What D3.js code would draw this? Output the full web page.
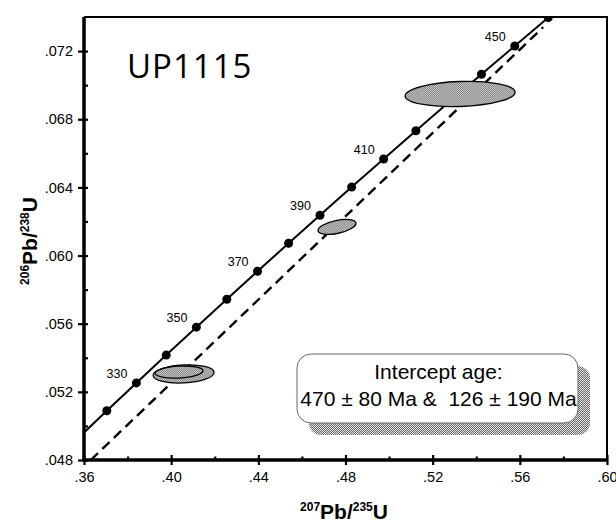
<!DOCTYPE html>
<html>
<head>
<meta charset="utf-8">
<script src="https://cdn.jsdelivr.net/npm/d3@7"></script>
<style>
  body { margin: 0; background: #fff; }
  svg { display: block; }
</style>
</head>
<body>
<div id="chart"></div>
<script>
// concordia ages (Ma) and their ratios
var ages   = [310, 320, 330, 340, 350, 360, 370, 380, 390, 400, 410, 420, 430, 440, 450, 460, 470];
var concX  = [0.3571, 0.37047, 0.38403, 0.39773, 0.41156, 0.42553, 0.43964, 0.45389, 0.46828, 0.48281, 0.49749, 0.51231, 0.52728, 0.54239, 0.55766, 0.57307, 0.58865];
var concY  = [0.04926, 0.050893, 0.052524, 0.054159, 0.055795, 0.057434, 0.059075, 0.060720, 0.062366, 0.064016, 0.065667, 0.067322, 0.068979, 0.070639, 0.072300, 0.073966, 0.07563];
var labelAges = [330, 350, 370, 390, 410, 450];

// discordia (dashed) end points
var discX = [0.3631, 0.5707];
var discY = [0.048, 0.0734];

// error ellipses: centre, semi axes (data units), tilt (deg)
var ellX   = [0.4057, 0.4036, 0.4761, 0.5326];
var ellY   = [0.05305, 0.05316, 0.06168, 0.06948];
var ellSX  = [0.0140, 0.0110, 0.0089, 0.02524];
var ellSY  = [0.00053, 0.00035, 0.00038, 0.000734];
var ellRot = [-3, -3, -12, -2];

var xTicks = [0.36, 0.40, 0.44, 0.48, 0.52, 0.56, 0.60];
var xTickLabels = [".36", ".40", ".44", ".48", ".52", ".56", ".60"];
var xMinor = [0.38, 0.42, 0.46, 0.50, 0.54, 0.58];
var yTicks = [0.048, 0.052, 0.056, 0.060, 0.064, 0.068, 0.072];
var yTickLabels = [".048", ".052", ".056", ".060", ".064", ".068", ".072"];
var yMinor = [0.050, 0.054, 0.058, 0.062, 0.066, 0.070];

var sampleName = "UP1115";
var boxLines = ["Intercept age:", "470 \u00b1 80 Ma &  126 \u00b1 190 Ma"];

var W = 616, H = 525;
var margin = {top: 17, right: 9, bottom: 65, left: 84};
var width = W - margin.left - margin.right,
    height = H - margin.top - margin.bottom;

var x = d3.scaleLinear().domain([0.36, 0.60]).range([0, width]);
var y = d3.scaleLinear().domain([0.048, 0.074]).range([height, 0]);

var svg = d3.select("#chart").append("svg")
    .attr("width", W)
    .attr("height", H);

var defs = svg.append("defs");
var pat = defs.append("pattern")
    .attr("id", "stipple")
    .attr("patternUnits", "userSpaceOnUse")
    .attr("width", 2).attr("height", 2);
pat.append("rect").attr("width", 2).attr("height", 2).attr("fill", "#e6e6e6");
pat.append("rect").attr("x", 0).attr("y", 0).attr("width", 1).attr("height", 1).attr("fill", "#666");
pat.append("rect").attr("x", 1).attr("y", 1).attr("width", 1).attr("height", 1).attr("fill", "#666");

defs.append("clipPath").attr("id", "plotclip")
  .append("rect").attr("width", width).attr("height", height);

var g = svg.append("g")
    .attr("transform", "translate(" + margin.left + "," + margin.top + ")");

var plot = g.append("g").attr("clip-path", "url(#plotclip)");

// discordia
plot.append("line")
    .attr("x1", x(discX[0])).attr("y1", y(discY[0]))
    .attr("x2", x(discX[1])).attr("y2", y(discY[1]))
    .attr("stroke", "#000")
    .attr("stroke-width", 2.4)
    .attr("stroke-dasharray", "10,6");

// concordia
var conc = ages.map(function(a, i) { return {age: a, x: concX[i], y: concY[i]}; });
var line = d3.line()
    .x(function(d) { return x(d.x); })
    .y(function(d) { return y(d.y); })
    .curve(d3.curveMonotoneX);

plot.append("path")
    .datum(conc)
    .attr("d", line)
    .attr("fill", "none")
    .attr("stroke", "#000")
    .attr("stroke-width", 2);

plot.selectAll(".dot")
    .data(conc.filter(function(d) { return d.age >= 320 && d.age <= 460; }))
    .enter().append("circle")
    .attr("class", "dot")
    .attr("cx", function(d) { return x(d.x); })
    .attr("cy", function(d) { return y(d.y); })
    .attr("r", 4.5)
    .attr("fill", "#000");

// ellipses
var ells = ellX.map(function(v, i) {
    return {x: v, y: ellY[i], sx: ellSX[i], sy: ellSY[i], rot: ellRot[i]};
});
plot.selectAll(".ell")
    .data(ells)
    .enter().append("ellipse")
    .attr("class", "ell")
    .attr("transform", function(d) {
        return "translate(" + x(d.x) + "," + y(d.y) + ") rotate(" + d.rot + ")";
    })
    .attr("rx", function(d) { return x(d.x + d.sx) - x(d.x); })
    .attr("ry", function(d) { return y(d.y) - y(d.y + d.sy); })
    .attr("fill", "url(#stipple)")
    .attr("stroke", "#000")
    .attr("stroke-width", 1.3);

// age labels
g.selectAll(".agelabel")
    .data(conc.filter(function(d) { return labelAges.indexOf(d.age) >= 0; }))
    .enter().append("text")
    .attr("class", "agelabel")
    .attr("x", function(d) { return x(d.x) - 9; })
    .attr("y", function(d) { return y(d.y) - 5; })
    .attr("text-anchor", "end")
    .style("font-family", "'Liberation Sans', Arial, sans-serif")
    .style("font-size", "12.5px")
    .text(function(d) { return d.age; });

// sample name
g.append("text")
    .attr("x", 127 - margin.left)
    .attr("y", 78 - margin.top)
    .style("font-family", "'Open Sans', sans-serif")
    .style("font-size", "33px")
    .style("letter-spacing", "1px")
    .text(sampleName);

// intercept box with shadow
var bx = 297 - margin.left, by = 354 - margin.top, bw = 281, bh = 69;
g.append("rect")
    .attr("x", bx + 12).attr("y", by + 12)
    .attr("width", bw).attr("height", bh)
    .attr("rx", 12)
    .attr("fill", "url(#stipple)");
g.append("rect")
    .attr("x", bx).attr("y", by)
    .attr("width", bw).attr("height", bh)
    .attr("rx", 14)
    .attr("fill", "#fff")
    .attr("stroke", "#666")
    .attr("stroke-width", 1);
g.selectAll(".boxtext")
    .data(boxLines)
    .enter().append("text")
    .attr("class", "boxtext")
    .attr("x", bx + bw / 2 + 1)
    .attr("y", function(d, i) { return by + 25 + i * 27; })
    .attr("text-anchor", "middle")
    .style("white-space", "pre")
    .style("font-family", "'Liberation Sans', Arial, sans-serif")
    .style("font-size", "21px")
    .text(function(d) { return d; });

// frame top / right
g.append("path")
    .attr("d", "M0,0H" + width + "V" + height)
    .attr("fill", "none")
    .attr("stroke", "#000")
    .attr("stroke-width", 2);

// axes
var xAxis = g.append("g")
    .attr("transform", "translate(0," + height + ")")
    .call(d3.axisBottom(x).tickValues(xTicks).tickSize(5)
        .tickFormat(function(d, i) { return xTickLabels[i]; }));
var xInner = g.append("g")
    .attr("transform", "translate(0," + height + ")")
    .call(d3.axisTop(x).tickValues(xTicks.concat(xMinor)).tickSize(5).tickFormat(""));
xInner.selectAll(".tick line").attr("y2", function(d) { return xMinor.indexOf(d) >= 0 ? -3.5 : -5; });

var yAxis = g.append("g")
    .call(d3.axisLeft(y).tickValues(yTicks).tickSize(6)
        .tickFormat(function(d, i) { return yTickLabels[i]; }));
var yInner = g.append("g")
    .call(d3.axisRight(y).tickValues(yTicks.concat(yMinor)).tickSize(4).tickFormat(""));

[xAxis, xInner, yAxis, yInner].forEach(function(a) {
    a.select(".domain").attr("stroke-width", 3);
    a.selectAll(".tick line").attr("stroke-width", 2.2);
});
xInner.select(".domain").attr("d", "M-1.5,0H" + width);
xAxis.select(".domain").attr("d", "M-1.5,0H" + width);
yAxis.select(".domain").attr("d", "M0,0V" + (height + 1.5));
yInner.select(".domain").attr("d", "M0,0V" + (height + 1.5));

xAxis.selectAll("text")
    .attr("y", 12)
    .style("font-family", "'Liberation Sans', Arial, sans-serif")
    .style("font-size", "14.5px")
    .attr("fill", "#000");
yAxis.selectAll("text")
    .attr("x", -11)
    .style("font-family", "'Liberation Sans', Arial, sans-serif")
    .style("font-size", "14.5px")
    .attr("fill", "#000");

// axis titles
var xt = svg.append("text")
    .attr("x", 344).attr("y", 519)
    .attr("text-anchor", "middle")
    .style("font-family", "'Liberation Sans', Arial, sans-serif")
    .style("font-weight", "bold")
    .style("font-size", "21px");
xt.append("tspan").attr("font-size", "12px").attr("dy", "-8").text("207");
xt.append("tspan").attr("dy", "8").text("Pb/");
xt.append("tspan").attr("font-size", "12px").attr("dy", "-8").text("235");
xt.append("tspan").attr("dy", "8").text("U");

var yt = svg.append("text")
    .attr("transform", "translate(37,241) rotate(-90)")
    .attr("text-anchor", "middle")
    .style("font-family", "'Liberation Sans', Arial, sans-serif")
    .style("font-weight", "bold")
    .style("font-size", "21px");
yt.append("tspan").attr("font-size", "12px").attr("dy", "-8").text("206");
yt.append("tspan").attr("dy", "8").text("Pb/");
yt.append("tspan").attr("font-size", "12px").attr("dy", "-8").text("238");
yt.append("tspan").attr("dy", "8").text("U");
</script>
</body>
</html>
